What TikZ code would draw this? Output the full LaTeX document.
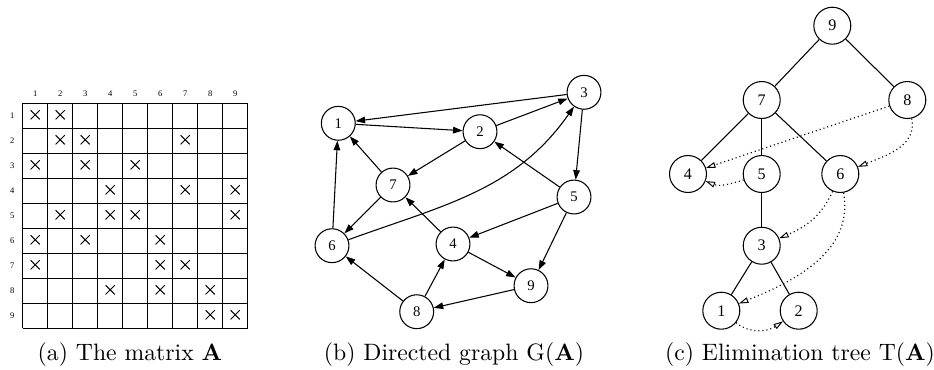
\documentclass[tikz,border=0pt]{standalone}
\usepackage{fontspec}
\newfontfamily\timesf{Liberation Serif}
\usetikzlibrary{arrows.meta}
\begin{document}
\begin{tikzpicture}[x=0.422pt,y=-0.422pt,
  gnode/.style={circle,draw,line width=0.45pt,minimum size=14.3pt,inner sep=0pt,font=\timesf\fontsize{6.2}{7}\selectfont},
  tnode/.style={circle,draw,line width=0.45pt,minimum size=15.6pt,inner sep=0pt,font=\timesf\fontsize{6.8}{8}\selectfont},
  mlabel/.style={font=\timesf\fontsize{3.6}{4}\selectfont,inner sep=0pt},
  gridline/.style={line width=0.55pt},
  crossline/.style={line width=0.4pt},
  garrow/.style={line width=0.45pt,-{Triangle[length=4pt,width=2.8pt]}},
  tedge/.style={line width=0.45pt},
  tdot/.style={line width=0.5pt,dash pattern=on 0.45pt off 1.25pt,-{Triangle[open,length=4pt,width=2.4pt,line width=0.4pt]}},
  caption/.style={anchor=base,inner sep=0pt}]
\useasboundingbox (0,0) rectangle (934,369);

% ---------- (a) matrix ----------
\foreach \i in {0,...,9}{
  \draw[gridline] (22.7+25*\i,103.3) -- (22.7+25*\i,328.3);
  \draw[gridline] (22.7,103.3+25*\i) -- (247.7,103.3+25*\i);
}
\foreach \i in {1,...,9}{
  \node[mlabel] (r\i) at (12.3,103.3+25*\i-12.5) {\i};
  \node[mlabel] (c\i) at (22.7+25*\i-12.5,94) {\i};
}
\foreach \r/\c in {1/1,1/2,2/2,2/3,2/7,3/1,3/3,3/5,4/4,4/7,4/9,5/2,5/4,5/5,5/9,6/1,6/3,6/6,7/1,7/6,7/7,8/4,8/6,8/8,9/8,9/9}{
  \draw[crossline] (22.7+25*\c-12.5-4.6,103.3+25*\r-13.5-4.6) -- (22.7+25*\c-12.5+4.6,103.3+25*\r-13.5+4.6);
  \draw[crossline] (22.7+25*\c-12.5-4.6,103.3+25*\r-13.5+4.6) -- (22.7+25*\c-12.5+4.6,103.3+25*\r-13.5-4.6);
}
\node[caption] (capa) at (130,360) {(a) The matrix \textbf{A}};

% ---------- (b) directed graph ----------
\node[gnode] (g1) at (338.3,123.3) {1};
\node[gnode] (g2) at (480,131.7) {2};
\node[gnode] (g3) at (584,92.3) {3};
\node[gnode] (g7) at (393,185) {7};
\node[gnode] (g5) at (574,197) {5};
\node[gnode] (g6) at (332,245.7) {6};
\node[gnode] (g4) at (453,244) {4};
\node[gnode] (g9) at (531,285.7) {9};
\node[gnode] (g8) at (416.7,311.7) {8};
\draw[garrow] (g3) -- (g1);
\draw[garrow] (g1) -- (g2);
\draw[garrow] (g2) -- (g3);
\draw[garrow] (g2) -- (g7);
\draw[garrow] (g7) -- (g1);
\draw[garrow] (g6) -- (g1);
\draw[garrow] (g7) -- (g6);
\draw[garrow] (g6) to[out=20,in=-125] (g3);
\draw[garrow] (g5) -- (g2);
\draw[garrow] (g3) -- (g5);
\draw[garrow] (g5) -- (g4);
\draw[garrow] (g5) -- (g9);
\draw[garrow] (g4) -- (g7);
\draw[garrow] (g4) -- (g9);
\draw[garrow] (g8) -- (g4);
\draw[garrow] (g8) -- (g6);
\draw[garrow] (g9) -- (g8);
\node[caption] (capb) at (454,360) {(b) Directed graph G(\textbf{A})};

% ---------- (c) elimination tree ----------
\node[tnode] (t9) at (832.3,25.7) {9};
\node[tnode] (t7) at (761.7,100) {7};
\node[tnode] (t8) at (907.3,100) {8};
\node[tnode] (t4) at (688,174) {4};
\node[tnode] (t5) at (761.7,174) {5};
\node[tnode] (t6) at (840.3,174) {6};
\node[tnode] (t3) at (761.7,245.7) {3};
\node[tnode] (t1) at (721.3,310.7) {1};
\node[tnode] (t2) at (798.7,310.7) {2};
\draw[tedge] (t9) -- (t7);
\draw[tedge] (t9) -- (t8);
\draw[tedge] (t7) -- (t4);
\draw[tedge] (t7) -- (t5);
\draw[tedge] (t7) -- (t6);
\draw[tedge] (t5) -- (t3);
\draw[tedge] (t3) -- (t1);
\draw[tedge] (t3) -- (t2);
\draw[tdot] (t8) -- (t4);
\draw[tdot] (t5) to[out=198,in=-22] (t4);
\draw[tdot] (t8) to[out=-77,in=22] (t6);
\draw[tdot] (t6) to[out=-114,in=23] (t3);
\draw[tdot] (t6) to[out=-80,in=22] (t1);
\draw[tdot] (t1) to[out=-39,in=-146] (t2);
\node[caption] (capc) at (800,360) {(c) Elimination tree T(\textbf{A})};
\end{tikzpicture}
\end{document}
